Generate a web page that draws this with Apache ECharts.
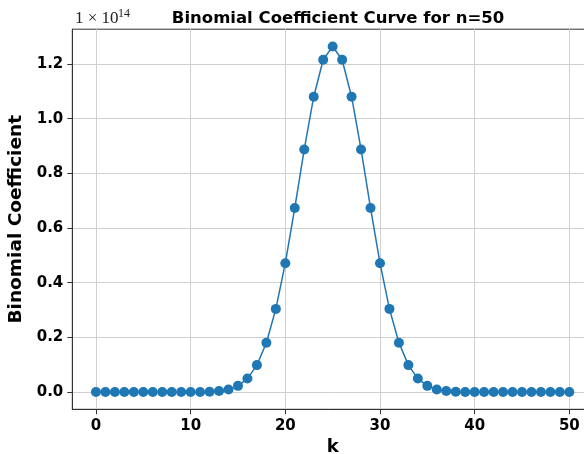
<!DOCTYPE html>
<html>
<head>
<meta charset="utf-8">
<script src="https://cdn.jsdelivr.net/npm/echarts@6/dist/echarts.min.js"></script>
<style>
  html, body { margin: 0; padding: 0; background: #ffffff; }
  #chart { width: 584px; height: 454px; }
</style>
</head>
<body>
<div id="chart"></div>
<script>
// k = 0..50
var kValues = [0,1,2,3,4,5,6,7,8,9,10,11,12,13,14,15,16,17,18,19,20,21,22,23,24,25,
  26,27,28,29,30,31,32,33,34,35,36,37,38,39,40,41,42,43,44,45,46,47,48,49,50]
// binomial coefficient, in units of 1e14
var coefValues = [0,0,0,0,0,0,0,0,0,0,0.0001,0.0004,0.0012,0.0035,0.0094,0.0225,0.0492,0.0985,
  0.1805,0.3041,0.4713,0.6733,0.8875,1.0804,1.2155,1.2641,
  1.2155,1.0804,0.8875,0.6733,0.4713,0.3041,0.1805,0.0985,0.0492,0.0225,0.0094,0.0035,
  0.0012,0.0004,0.0001,0,0,0,0,0,0,0,0,0,0]
var xTicks = [0,10,20,30,40,50]
var yTicks = [0,0.2,0.4,0.6,0.8,1.0,1.2]

var chart = echarts.init(document.getElementById('chart'))

var tickFont = {
  fontFamily: 'DejaVu Sans',
  fontSize: 15,
  fontWeight: 'bold',
  color: '#000000'
}

var option = {
  backgroundColor: '#ffffff',
  animation: false,
  title: {
    text: 'Binomial Coefficient Curve for n=50',
    left: 333,
    top: 5,
    textAlign: 'center',
    textStyle: {
      fontFamily: 'DejaVu Sans',
      fontSize: 16.5,
      fontWeight: 'bold',
      color: '#000000'
    }
  },
  graphic: [
    {
      type: 'text',
      left: 75,
      top: 10,
      style: { text: '1 × 10', fontFamily: 'Liberation Serif', fontSize: 17, fill: '#222222' }
    },
    {
      type: 'text',
      left: 118,
      top: 8,
      style: { text: '14', fontFamily: 'Liberation Serif', fontSize: 12, fill: '#222222' }
    }
  ],
  grid: {
    left: 72.3,
    top: 29.2,
    width: 520.7,
    height: 380.1,
    outerBoundsMode: 'none',
    containLabel: false,
    show: true,
    borderColor: '#333333',
    borderWidth: 1,
    backgroundColor: 'transparent'
  },
  xAxis: {
    type: 'value',
    min: -2.5,
    max: 52.5,
    splitNumber: 5,
    name: 'k',
    nameLocation: 'middle',
    nameGap: 28,
    nameTextStyle: { fontFamily: 'DejaVu Sans', fontSize: 18, fontWeight: 'bold', color: '#000000' },
    axisLine: { show: true, onZero: false, lineStyle: { color: '#333333', width: 1 } },
    axisTick: { show: true, length: 5, customValues: xTicks, lineStyle: { color: '#333333' } },
    axisLabel: Object.assign({ margin: 9, customValues: xTicks }, tickFont),
    splitLine: { show: true, lineStyle: { color: '#cfcfcf', width: 1 } }
  },
  yAxis: {
    type: 'value',
    min: -0.0632,
    max: 1.3273,
    splitNumber: 7,
    name: 'Binomial Coefficient',
    nameLocation: 'middle',
    nameGap: 41,
    nameTextStyle: { fontFamily: 'DejaVu Sans', fontSize: 18.5, fontWeight: 'bold', color: '#000000' },
    axisLine: { show: true, onZero: false, lineStyle: { color: '#333333', width: 1 } },
    axisTick: { show: true, length: 5, customValues: yTicks, lineStyle: { color: '#333333' } },
    axisLabel: Object.assign({
      margin: 9,
      customValues: yTicks,
      formatter: function (v) { return v.toFixed(1) }
    }, tickFont),
    splitLine: { show: true, lineStyle: { color: '#cfcfcf', width: 1 } }
  },
  series: [
    {
      type: 'line',
      data: kValues.map(function (k, i) { return [k, coefValues[i]] }),
      symbol: 'circle',
      symbolSize: 10,
      itemStyle: { color: '#1f77b4' },
      lineStyle: { color: '#1f77b4', width: 1.5 },
      z: 3
    }
  ]
}

chart.setOption(option)
</script>
</body>
</html>
